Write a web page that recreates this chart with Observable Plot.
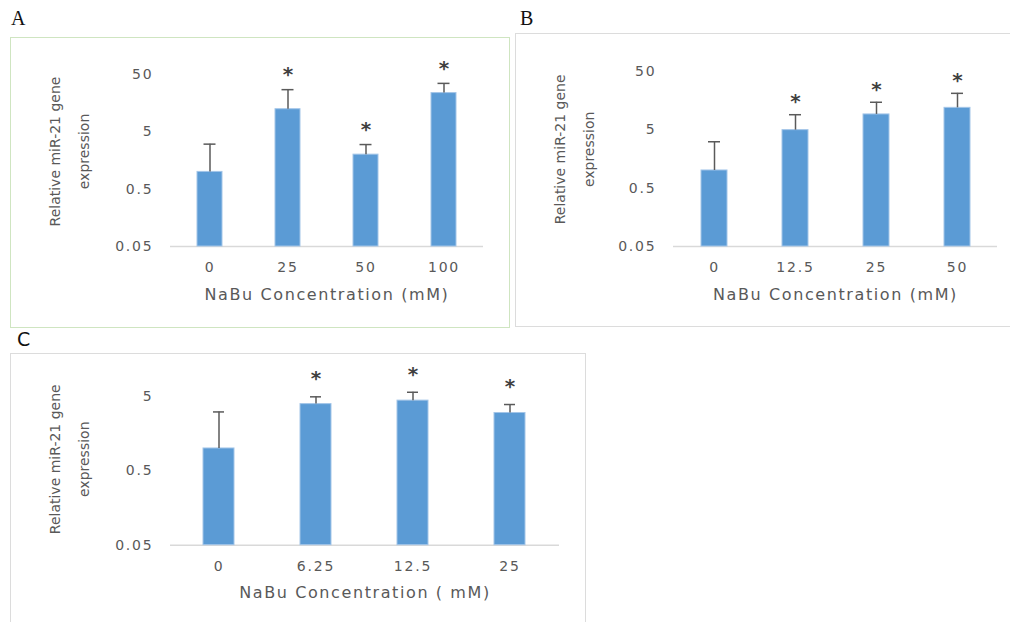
<!DOCTYPE html>
<html><head><meta charset="utf-8">
<script src="https://cdn.jsdelivr.net/npm/d3@7"></script>
<script src="https://cdn.jsdelivr.net/npm/@observablehq/plot@0.6"></script>
<style>
html,body{margin:0;padding:0;background:#fff;}
#page{position:relative;width:1010px;height:622px;overflow:hidden;background:#fff;}
.box{position:absolute;box-sizing:border-box;}
</style></head><body><div id="page"></div>
<script>
// ---- data ----
const yTickValues = [0.05, 0.5, 5, 50];
const xTitleAB = "NaBu Concentration (mM)";
const xTitleC = "NaBu Concentration ( mM)";
const yTitle = "Relative miR-21 gene\nexpression";

const concA = ["0", "25", "50", "100"];
const meanA = [1.0, 12.4, 2.0, 23.7];
const errA  = [2.05, 14.8, 1.0, 11.3];
const sigA  = [false, true, true, true];

const concB = ["0", "12.5", "25", "50"];
const meanB = [1.0, 4.9, 9.1, 11.8];
const errB  = [2.1, 4.1, 5.6, 9.1];
const sigB  = [false, true, true, true];

const concC = ["0", "6.25", "12.5", "25"];
const meanC = [1.0, 3.95, 4.4, 3.0];
const errC  = [2.1, 1.0, 1.3, 0.9];
const sigC  = [false, true, true, true];

// ---- layout ----
const page = document.getElementById("page");

function rows(conc, mean, err, sig) {
  return conc.map((c, i) => ({conc: c, mean: mean[i], upper: mean[i] + err[i], sig: sig[i]}));
}

function addBox(left, top, width, height, color) {
  const d = document.createElement("div");
  d.className = "box";
  Object.assign(d.style, {left: left + "px", top: top + "px", width: width + "px", height: height + "px",
    border: "1.5px solid " + color});
  page.appendChild(d);
}

function panel(cfg) {
  const data = rows(cfg.conc, cfg.mean, cfg.err, cfg.sig);
  const yMin = yTickValues[0];
  const yMax = cfg.yMax;
  const ticks = yTickValues.filter(v => v <= yMax * 1.0001);
  const svg = Plot.plot({
    width: cfg.width, height: cfg.height,
    marginLeft: cfg.ml, marginRight: cfg.mr, marginTop: cfg.mt, marginBottom: cfg.mb,
    style: {fontFamily: "DejaVu Sans", background: "transparent", color: "#595959", overflow: "visible"},
    x: {type: "band", domain: cfg.conc, paddingInner: 0.68, paddingOuter: 0.34, axis: null},
    y: {type: "log", domain: [yMin, yMax], axis: null},
    marks: [
      Plot.ruleY([yMin], {stroke: "#d9d9d9", strokeWidth: 1.5}),
      Plot.barY(data, {x: "conc", y1: yMin, y2: "mean", fill: "#5b9bd5", stroke: "#a3c5e8", strokeWidth: 1}),
      Plot.ruleX(data, {x: "conc", y1: "mean", y2: "upper", stroke: "#5a5a5a", strokeWidth: 1.5}),
      Plot.tickY(data, {x: "conc", y: "upper", stroke: "#5a5a5a", strokeWidth: 1.5, insetLeft: cfg.cap, insetRight: cfg.cap}),
      Plot.text(data.filter(d => d.sig), {x: "conc", y: "upper", text: () => "*", dy: cfg.starDy,
        fontSize: 20, fontWeight: "bold", fill: "#404040", fontFamily: "DejaVu Sans"}),
      Plot.axisX({tickSize: 0, tickPadding: 16, fontSize: 14, label: null, color: "#595959"}),
      Plot.text(ticks, {y: d => d, frameAnchor: "left", textAnchor: "end", lineAnchor: "middle", dx: -17,
        text: d => String(d), fontSize: 14, fill: "#595959"}),
      Plot.text([cfg.xTitle], {frameAnchor: "bottom", dy: 48, lineAnchor: "middle", fontSize: 16,
        fill: "#595959"}),
      Plot.text([yTitle], {frameAnchor: "left", rotate: -90, textAnchor: "middle", dx: cfg.ytDx, dy: cfg.ytDy,
        lineAnchor: "middle", fontSize: 14, lineHeight: 2.05, fill: "#595959"})
    ]
  });
  svg.style.position = "absolute";
  svg.style.left = cfg.left + "px";
  svg.style.top = cfg.top + "px";
  svg.querySelectorAll("text").forEach(t => {
    const s = t.textContent.trim();
    if (/^[0-9.]+$/.test(s)) t.setAttribute("letter-spacing", "1.8");
    else if (s.startsWith("NaBu")) t.setAttribute("letter-spacing", "1.6");
  });
  page.appendChild(svg);
}

addBox(10, 37, 500, 291, "#cfe5c1");
addBox(515, 33, 520, 294, "#dcdcdc");
addBox(10, 353, 576, 290, "#dcdcdc");

panel({conc: concA, mean: meanA, err: errA, sig: sigA, yMax: 50, xTitle: xTitleAB,
  left: 10, top: 37, width: 500, height: 291, ml: 160, mr: 27, mt: 37, mb: 82,
  cap: 6.5, starDy: -15, ytDx: -105, ytDy: -9});
panel({conc: concB, mean: meanB, err: errB, sig: sigB, yMax: 50, xTitle: xTitleAB,
  left: 515, top: 33, width: 495, height: 293, ml: 158, mr: 13, mt: 37.7, mb: 80,
  cap: 7, starDy: -13, ytDx: -103.5, ytDy: -9.5});
panel({conc: concC, mean: meanC, err: errC, sig: sigC, yMax: 5, xTitle: xTitleC,
  left: 11, top: 353, width: 574, height: 269, ml: 159, mr: 26, mt: 43, mb: 77.3,
  cap: 10, starDy: -18, ytDx: -105, ytDy: -11.6});

// panel letters
const letters = d3.select(page).append("svg")
  .attr("width", 1010).attr("height", 622)
  .style("position", "absolute").style("left", "0px").style("top", "0px").style("pointer-events", "none");
const panelLetters = [
  {t: "A", x: 11, y: 25, f: "Liberation Serif"},
  {t: "B", x: 520, y: 25, f: "Liberation Serif"},
  {t: "C", x: 17, y: 346, f: "DejaVu Sans"}
];
letters.selectAll("text").data(panelLetters).join("text")
  .attr("x", d => d.x).attr("y", d => d.y)
  .attr("font-family", d => d.f).attr("font-size", d => d.f === "DejaVu Sans" ? 19 : 20)
  .attr("fill", "#111").text(d => d.t);
</script></body></html>
